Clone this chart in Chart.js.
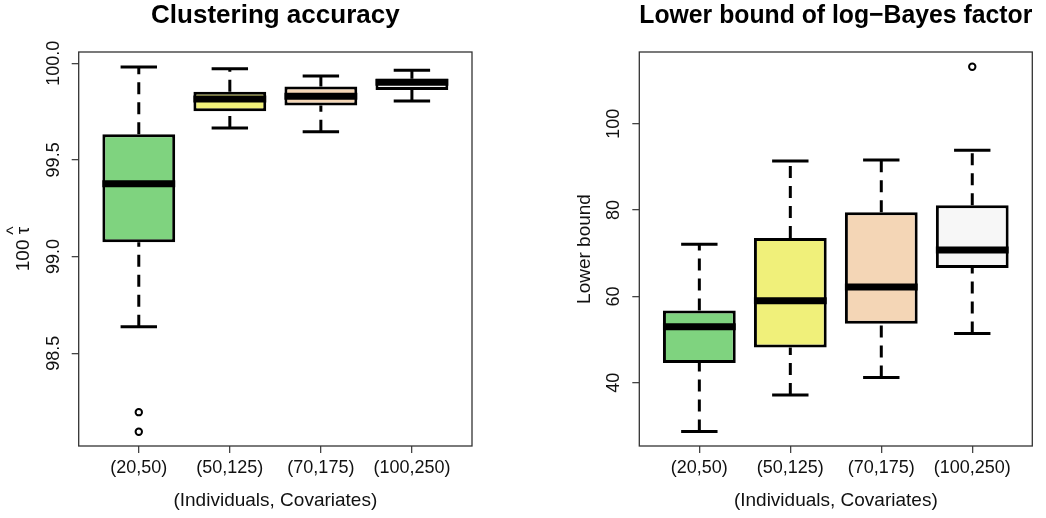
<!DOCTYPE html>
<html>
<head>
<meta charset="utf-8">
<script src="https://cdn.jsdelivr.net/npm/chart.js@4/dist/chart.umd.min.js"></script>
<style>
html,body{margin:0;padding:0;background:#fff;}
#wrap{display:flex;width:1046px;height:518px;background:#fff;}
canvas{display:block;}
</style>
</head>
<body>
<div id="wrap">
<canvas id="c1" width="523" height="518"></canvas>
<canvas id="c2" width="523" height="518"></canvas>
</div>
<script>
// ---------- data ----------
const categories = ['(20,50)', '(50,125)', '(70,175)', '(100,250)'];
const boxColors = ['#7FD37F', '#F0F07A', '#F4D6B6', '#F7F7F7'];

// Clustering accuracy (100 * tau-hat)
const accLowerWhisker = [98.637, 99.665, 99.646, 99.805];
const accQ1           = [99.074, 99.752, 99.781, 99.862];
const accMedian       = [99.376, 99.815, 99.829, 99.902];
const accQ3           = [99.633, 99.852, 99.879, 99.919];
const accUpperWhisker = [99.980, 99.972, 99.934, 99.964];
const accOutliers     = [[98.195, 98.094], [], [], []];
const accTicks        = [98.5, 99.0, 99.5, 100.0];
const accTickLabels   = ['98.5', '99.0', '99.5', '100.0'];
const accRange        = [98.02, 100.058];

// Lower bound of log-Bayes factor
const lbLowerWhisker = [28.73, 37.15, 41.24, 51.43];
const lbQ1           = [44.56, 48.19, 53.67, 66.57];
const lbMedian       = [52.98, 59.00, 62.17, 70.74];
const lbQ3           = [56.76, 73.52, 79.46, 81.08];
const lbUpperWhisker = [72.05, 91.36, 91.60, 93.83];
const lbOutliers     = [[], [], [], [113.2]];
const lbTicks        = [40, 60, 80, 100];
const lbTickLabels   = ['40', '60', '80', '100'];
const lbRange        = [25.35, 116.6];

const xPositions = [1, 2, 3, 4];
const xRange = [0.34, 4.66];
// ---------------------------

const FONT = '"Liberation Sans", Arial, Helvetica, sans-serif';
Chart.defaults.font.family = FONT;
Chart.defaults.color = '#111';

const rDecor = {
  id: 'rDecor',
  afterDraw(chart, args, opts) {
    const {ctx, chartArea} = chart;
    const ys = chart.scales.y;
    ctx.save();
    ctx.strokeStyle = '#333';
    ctx.lineWidth = 1.3;
    ctx.strokeRect(chartArea.left, chartArea.top, chartArea.width, chartArea.height);
    ctx.fillStyle = '#111';
    ctx.textAlign = 'center';
    ctx.textBaseline = 'middle';
    ctx.font = '18px ' + FONT;
    ys.ticks.forEach((t, i) => {
      const py = ys.getPixelForValue(t.value);
      ctx.save();
      ctx.translate(chartArea.left - 25, py);
      ctx.rotate(-Math.PI / 2);
      ctx.fillText(opts.tickLabels[i], 0, 0);
      ctx.restore();
    });
    ctx.font = '19px ' + FONT;
    ctx.save();
    ctx.translate(chartArea.left - 55, (chartArea.top + chartArea.bottom) / 2);
    ctx.rotate(-Math.PI / 2);
    const txt = opts.yTitle;
    const w = ctx.measureText(txt).width;
    ctx.textAlign = 'left';
    ctx.fillText(txt, -w / 2, 0);
    if (opts.hatLast) {
      const lw = ctx.measureText(txt.slice(-1)).width;
      ctx.textAlign = 'center';
      ctx.font = '18px ' + FONT;
      ctx.fillText('^', w / 2 - lw / 2, -10);
    }
    ctx.restore();
    ctx.restore();
  }
};

function makeChart(id, s) {
  const boxes = xPositions.map((x, i) => ({x, y: [s.q1[i], s.q3[i]]}));
  const whiskers = [], staples = [], medians = [], outliers = [];
  xPositions.forEach((x, i) => {
    whiskers.push({x, y: s.q3[i]}, {x, y: s.hi[i]}, {x, y: null},
                  {x, y: s.lo[i]}, {x, y: s.q1[i]}, {x, y: null});
    staples.push({x: x - 0.2, y: s.hi[i]}, {x: x + 0.2, y: s.hi[i]}, {x, y: null},
                 {x: x - 0.2, y: s.lo[i]}, {x: x + 0.2, y: s.lo[i]}, {x, y: null});
    medians.push({x: x - 0.4, y: s.med[i]}, {x: x + 0.4, y: s.med[i]}, {x, y: null});
    s.out[i].forEach(v => outliers.push({x, y: v}));
  });
  const lineBase = {type: 'line', pointRadius: 0, fill: false, tension: 0, spanGaps: false,
                    borderColor: '#000', borderCapStyle: 'butt'};
  return new Chart(document.getElementById(id), {
    type: 'bar',
    data: {
      datasets: [
        Object.assign({}, lineBase, {data: whiskers, borderWidth: 3, borderDash: [12, 8], order: 4}),
        Object.assign({}, lineBase, {data: staples, borderWidth: 3, order: 3}),
        {type: 'bar', data: boxes, backgroundColor: boxColors, borderColor: '#000', borderWidth: 3,
         borderSkipped: false, barPercentage: 0.8, categoryPercentage: 1.0, order: 2},
        Object.assign({}, lineBase, {data: medians, borderWidth: 7, order: 1}),
        {type: 'scatter', data: outliers, pointRadius: 3.2, pointBorderWidth: 2,
         pointBackgroundColor: 'rgba(0,0,0,0)', pointBorderColor: '#000', order: 0}
      ]
    },
    options: {
      responsive: false,
      animation: false,
      events: [],
      layout: {padding: {left: s.padLeft, right: s.padRight, top: 0, bottom: 0}},
      plugins: {
        legend: {display: false},
        tooltip: {enabled: false},
        title: {display: true, text: s.title, fullSize: false, color: '#000',
                font: {size: 26, weight: 'bold', family: FONT, lineHeight: 1.1},
                padding: {top: 2, bottom: 21.4}},
        rDecor: {tickLabels: s.tickLabels, yTitle: s.yTitle, hatLast: s.hatLast}
      },
      scales: {
        x: {
          type: 'linear', offset: false, min: xRange[0], max: xRange[1],
          afterBuildTicks: (sc) => { sc.ticks = xPositions.map(v => ({value: v})); },
          afterFit: (sc) => { sc.height = 72; },
          ticks: {autoSkip: false, maxRotation: 0, minRotation: 0, padding: 4,
                  font: {size: 18}, color: '#111',
                  callback: (v) => categories[Math.round(v) - 1]},
          grid: {offset: false, drawOnChartArea: false, drawTicks: true, tickLength: 7,
                 color: '#444', lineWidth: 1.3},
          border: {display: false},
          title: {display: true, text: '(Individuals, Covariates)', font: {size: 19},
                  color: '#111', padding: {top: 0, bottom: 5.6}}
        },
        y: {
          type: 'linear', min: s.range[0], max: s.range[1], beginAtZero: false,
          afterBuildTicks: (sc) => { sc.ticks = s.ticks.map(v => ({value: v})); },
          afterFit: (sc) => { sc.width = 40; },
          ticks: {display: false},
          grid: {drawOnChartArea: false, drawTicks: true, tickLength: 7, color: '#444', lineWidth: 1.3},
          border: {display: false}
        }
      }
    },
    plugins: [rDecor]
  });
}

makeChart('c1', {
  title: 'Clustering accuracy', yTitle: '100 \u03C4', hatLast: true,
  lo: accLowerWhisker, q1: accQ1, med: accMedian, q3: accQ3, hi: accUpperWhisker, out: accOutliers,
  ticks: accTicks, tickLabels: accTickLabels, range: accRange,
  padLeft: 38.7, padRight: 51
});
makeChart('c2', {
  title: 'Lower bound of log\u2212Bayes factor', yTitle: 'Lower bound', hatLast: false,
  lo: lbLowerWhisker, q1: lbQ1, med: lbMedian, q3: lbQ3, hi: lbUpperWhisker, out: lbOutliers,
  ticks: lbTicks, tickLabels: lbTickLabels, range: lbRange,
  padLeft: 76.3, padRight: 13.7
});
</script>
</body>
</html>
